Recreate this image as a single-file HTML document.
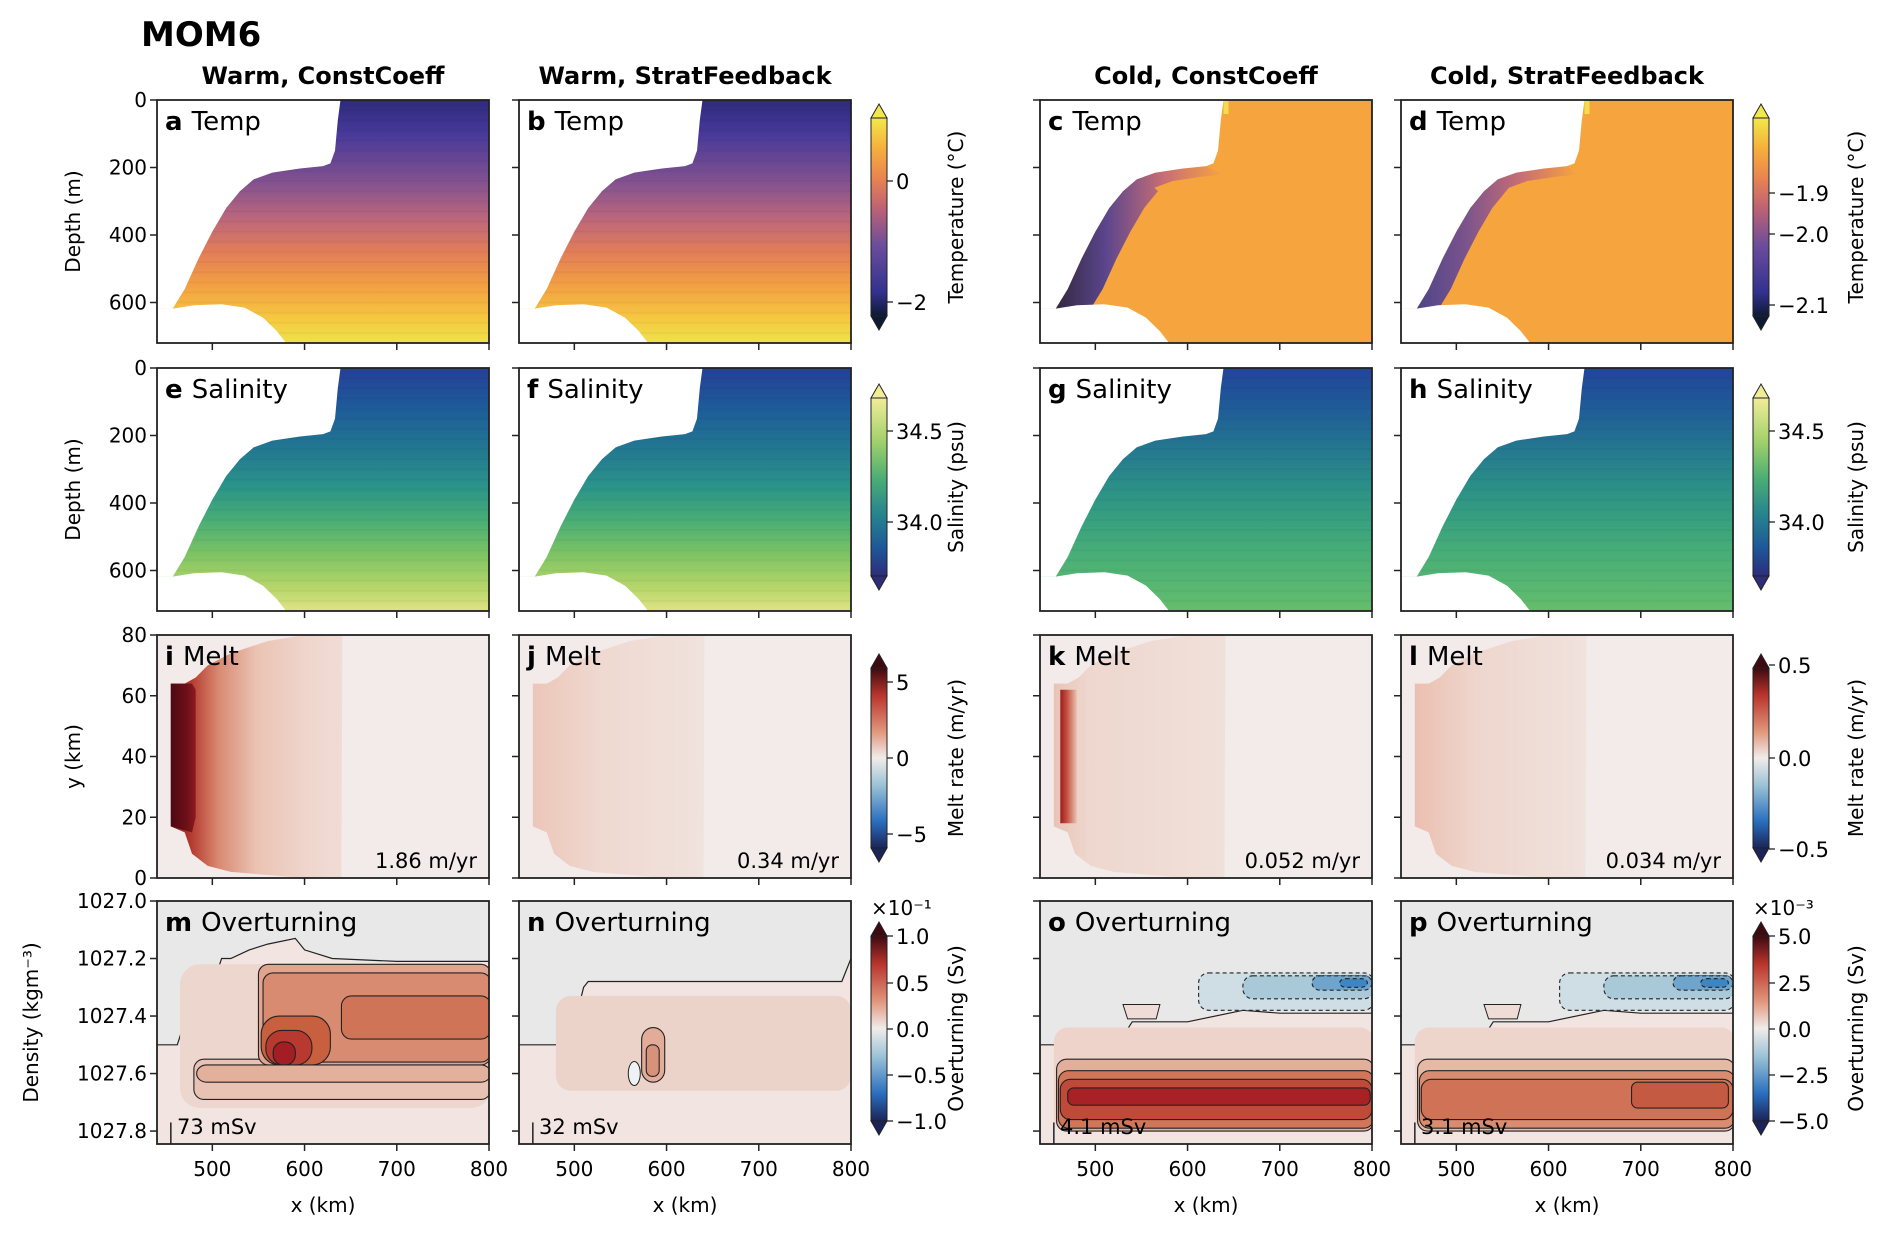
<!DOCTYPE html>
<html><head><meta charset="utf-8"><style>
html,body{margin:0;padding:0;background:#fff;}
svg{display:block;font-family:"DejaVu Sans","Liberation Sans",sans-serif;}
</style></head><body>
<svg id="fig" width="1892" height="1233" viewBox="0 0 1892 1233" xmlns="http://www.w3.org/2000/svg">
<defs id="defs"></defs>
</svg>
<script>
// ---- data ----
const colTitles = ["Warm, ConstCoeff","Warm, StratFeedback","Cold, ConstCoeff","Cold, StratFeedback"];
const xTicks = [500,600,700,800];
const depthTicks = [0,200,400,600];
const yKmTicks = [0,20,40,60,80];
const densTicks = [1027.0,1027.2,1027.4,1027.6,1027.8];
const meltTexts = ["1.86 m/yr","0.34 m/yr","0.052 m/yr","0.034 m/yr"];
const overturnTexts = ["73 mSv","32 mSv","4.1 mSv","3.1 mSv"];
const draftKm = [457,470,485,500,515,530,545,565,595,620,628,633,636,639];
const draftM  = [618,560,470,390,320,270,235,215,203,196,188,150,60,0];
const bedKm = [457,480,510,535,555,570,580];
const bedM  = [618,608,605,615,645,685,720];
const warmTempDepth = [0,100,250,350,450,550,650,720];
const warmTempCol = ["#2e2a7c","#47399a","#86538f","#bb667c","#e27d58","#f3a043","#f6c940","#eee24c"];
const salDepth = [0,120,250,350,450,550,650,720];
const warmSalCol = ["#263f96","#1d5c9a","#237a90","#2a938a","#48ad76","#7cc364","#b6d66a","#dfe384"];
const coldSalCol = ["#22449a","#1f5c98","#257a8f","#2b8f88","#37a07f","#48ae77","#58b771","#66bd6c"];
const tempCbLeftTicks = ["0","\u22122"], tempCbLeftY=[181,302];
const tempCbRightTicks = ["\u22121.9","\u22122.0","\u22122.1"], tempCbRightY=[193,234,305];
const salCbTicks = ["34.5","34.0"], salCbY=[431,522];
const meltCbLeftTicks = ["5","0","\u22125"], meltCbLeftY=[682,758,834];
const meltCbRightTicks=["0.5","0.0","\u22120.5"], meltCbRightY=[665,758,849];
const ovLeftTicks = ["1.0","0.5","0.0","\u22120.5","\u22121.0"], ovRightTicks=["5.0","2.5","0.0","\u22122.5","\u22125.0"], ovY=[936,983,1029,1075,1121];

// ---- layout ----
const X0=[157,519,1040,1401], W=332, Y0=[100,368,635,901], H=243;
const svg=document.getElementById('fig'), defs=document.getElementById('defs');
const NS="http://www.w3.org/2000/svg";
function mk(tag,attrs,name,parent){const el=document.createElementNS(NS,tag);for(const k in attrs)el.setAttribute(k,attrs[k]);


(parent||svg).appendChild(el);return el;}
function txt(s,x,y,size,name,opt){opt=opt||{};const t=mk('text',Object.assign({x:x,y:y,'font-size':size,fill:'#000'},opt),name);t.textContent=s;return t;}
const sx=(c,km)=>X0[c]+(km-440)/360*W;
const sd=(r,d)=>Y0[r]+d/720*H;
const sy=(r,y)=>Y0[r]+H-(y/80)*H;
const sr=(r,rho)=>Y0[r]+(rho-1027.0)/0.845*H;
let gid=0;
function vgrad(stops){const id='g'+(gid++);const g=mk('linearGradient',{id:id,x1:0,y1:0,x2:0,y2:1},'gradient',defs);
stops.forEach(s=>mk('stop',{offset:s[0],'stop-color':s[1]},'gradient-stop',g));return id;}
function hgrad(stops){const id='g'+(gid++);const g=mk('linearGradient',{id:id,x1:0,y1:0,x2:1,y2:0},'gradient',defs);
stops.forEach(s=>mk('stop',{offset:s[0],'stop-color':s[1]},'gradient-stop',g));return id;}
function pts(arr){return arr.map(p=>p[0].toFixed(1)+','+p[1].toFixed(1)).join(' ');}

txt("MOM6",141,46,34,'figure-title',{'font-weight':'bold'});
colTitles.forEach((t,c)=>txt(t,X0[c]+W/2,84,24,'column-title',{'font-weight':'bold','text-anchor':'middle'}));

function frame(c,r){mk('rect',{x:X0[c],y:Y0[r],width:W,height:H,fill:'none',stroke:'#222','stroke-width':1.8},'axes-frame');
xTicks.forEach(v=>mk('line',{x1:sx(c,v),x2:sx(c,v),y1:Y0[r]+H,y2:Y0[r]+H+7,stroke:'#222','stroke-width':1.5},'x-tick'));
if(r==3) xTicks.forEach(v=>txt(String(v),sx(c,v),Y0[r]+H+32,20,'x-tick-label',{'text-anchor':'middle'}));
if(r==3) txt("x (km)",X0[c]+W/2,1212,20,'x-axis-title',{'text-anchor':'middle'});}
function yticks(c,r,vals,fn,labels){vals.forEach(v=>{mk('line',{x1:X0[c]-7,x2:X0[c],y1:fn(r,v),y2:fn(r,v),stroke:'#222','stroke-width':1.5},'y-tick');
if(labels&&c==0) txt(labels(v),X0[c]-10,fn(r,v)+7,20,'y-tick-label',{'text-anchor':'end'});});}
function plabel(c,r,l,s){const t=txt('',X0[c]+8,Y0[r]+30,26,'panel-label');
const a=document.createElementNS(NS,'tspan');a.setAttribute('font-weight','bold');a.textContent=l+' ';t.appendChild(a);
const b=document.createElementNS(NS,'tspan');b.textContent=s;t.appendChild(b);}
function clip(c,r){const id='c'+(gid++);const cp=mk('clipPath',{id:id},'clip',defs);mk('rect',{x:X0[c],y:Y0[r],width:W,height:H},'clip-rect',cp);return id;}
function ice(c,r){
 const top=[[sx(c,440),Y0[r]]];
 const d=draftKm.map((k,i)=>[sx(c,k),sd(r,draftM[i])]);
 mk('polygon',{points:pts(top.concat(d.slice().reverse()).concat([[sx(c,440),sd(r,618)]])),fill:'#fff'},'ice-shelf');
 const b=bedKm.map((k,i)=>[sx(c,k),sd(r,bedM[i])]);
 mk('polygon',{points:pts([[sx(c,440),sd(r,618)]].concat(b).concat([[sx(c,440),sd(r,720)]])),fill:'#fff'},'bedrock');}
function depthPanel(c,r,depths,cols){const g=vgrad(depths.map((d,i)=>[d/720,cols[i]]));
 mk('rect',{x:X0[c],y:Y0[r],width:W,height:H,fill:'url(#'+g+')'},'field');
 for(let d=30;d<720;d+=30) mk('line',{x1:X0[c],x2:X0[c]+W,y1:sd(r,d),y2:sd(r,d),stroke:'#000','stroke-opacity':0.03,'stroke-width':2},'contour-band');}

// Row 0 temp
for(let c=0;c<4;c++){
 if(c<2){depthPanel(c,0,warmTempDepth,warmTempCol);}
 else{mk('rect',{x:X0[c],y:Y0[0],width:W,height:H,fill:'#f6a53e'},'field');
  const dk=c==2?'#1c1a40':'#3a3a90', pur=c==2?'#4a3b96':'#6c4a95';
  const g=hgrad([[0,dk],[0.3,pur],[0.65,'#c4687a'],[1,'#f6a53e']]);
  const band=[];for(let i=0;i<10;i++)band.push([sx(c,draftKm[i]),sd(0,draftM[i])]);
  const w=c==2?38:24;
  const back=[];for(let i=9;i>=0;i--)back.push([sx(c,draftKm[i]+w*(i<6?1:0.5)),sd(0,draftM[i]+(i>=6?25:0))]);
  mk('polygon',{points:pts(band.concat(back)),fill:'url(#'+g+')',opacity:0.9},'cold-plume');
  mk('rect',{x:sx(c,639),y:Y0[0],width:5,height:14,fill:'#f4dc4a'},'warm-spot');}
 ice(c,0);frame(c,0);yticks(c,0,depthTicks,sd,v=>String(v));plabel(c,0,'abcd'[c],'Temp');}
// Row 1 salinity
for(let c=0;c<4;c++){depthPanel(c,1,salDepth,c<2?warmSalCol:coldSalCol);ice(c,1);frame(c,1);yticks(c,1,depthTicks,sd,v=>String(v));plabel(c,1,'efgh'[c],'Salinity');}
txt("Depth (m)",0,0,20,'y-axis-title',{transform:'translate(80,'+(Y0[0]+H/2)+') rotate(-90)','text-anchor':'middle'});
txt("Depth (m)",0,0,20,'y-axis-title',{transform:'translate(80,'+(Y0[1]+H/2)+') rotate(-90)','text-anchor':'middle'});

// Row 2 melt
const meltEdge=[[478,8],[495,4],[520,2],[560,1],[600,0],[640,0],[641,80],[600,80],[560,78],[520,74],[495,70],[482,66],[470,64],[455,64],[455,17],[470,15]];
const darkBlock=[[455,17],[478,15],[482,20],[482,62],[478,64],[455,64]];
for(let c=0;c<4;c++){const r=2;
 mk('rect',{x:X0[c],y:Y0[r],width:W,height:H,fill:'#f2ebea'},'field');
 const st=c==0?[[0,'#8b1a1f'],[0.12,'#b53b30'],[0.28,'#d98a72'],[0.5,'#ebc3b4'],[0.8,'#efd6cd'],[1,'#f0dcd5']]:
  c==2?[[0,'#e9c3b5'],[0.2,'#eed7ce'],[1,'#f0e0da']]:
  c==1?[[0,'#ecc6b8'],[0.4,'#efd9d1'],[1,'#f0e2dd']]:[[0,'#ebbfb0'],[0.35,'#eed6cd'],[1,'#f0e2dd']];
 const g=hgrad(st);
 mk('polygon',{points:pts(meltEdge.map(p=>[sx(c,p[0]),sy(r,p[1])])),fill:'url(#'+g+')'},'melt-region');
 if(c==0){const g2=hgrad([[0,'#4e0a12'],[0.6,'#6b0f18'],[1,'#8b1a1f']]);
  mk('polygon',{points:pts(darkBlock.map(p=>[sx(c,p[0]),sy(r,p[1])])),fill:'url(#'+g2+')'},'high-melt-block');}
 if(c==2){const g3=hgrad([[0,'#9a1c22'],[0.4,'#c4503e'],[1,'#e9c3b5']]);
  mk('polygon',{points:pts([[462,18],[480,18],[480,62],[462,62]].map(p=>[sx(c,p[0]),sy(r,p[1])])),fill:'url(#'+g3+')'},'high-melt-strip');}
 frame(c,r);yticks(c,r,yKmTicks,sy,v=>String(v));plabel(c,r,'ijkl'[c],'Melt');
 txt(meltTexts[c],X0[c]+W-12,Y0[r]+H-10,21,'melt-mean-label',{'text-anchor':'end'});}
txt("y (km)",0,0,20,'y-axis-title',{transform:'translate(80,'+(Y0[2]+H/2)+') rotate(-90)','text-anchor':'middle'});

// Row 3 overturning
const bndM=[[440,1027.5],[462,1027.5],[470,1027.42],[480,1027.38],[490,1027.3],[505,1027.25],[510,1027.2],[520,1027.2],[540,1027.17],[560,1027.15],[590,1027.13],[600,1027.17],[630,1027.2],[700,1027.21],[800,1027.21]];
const bndN=[[440,1027.5],[480,1027.5],[500,1027.43],[510,1027.3],[515,1027.28],[600,1027.28],[640,1027.28],[700,1027.28],[790,1027.28],[800,1027.2]];
const bndO=[[440,1027.5],[465,1027.5],[470,1027.52],[500,1027.45],[520,1027.52],[540,1027.42],[600,1027.42],[660,1027.38],[700,1027.39],[800,1027.39]];
function boundary(c,r,b){const p=b.map(q=>[sx(c,q[0]),sr(r,q[1])]);
 mk('polygon',{points:pts([[X0[c],Y0[r]]].concat(p).concat([[X0[c]+W,Y0[r]]])),fill:'#e8e8e8'},'isopycnal-outcrop');
 mk('polyline',{points:pts(p),fill:'none',stroke:'#222','stroke-width':1.2},'zero-contour');}
function blob(c,r,x1,x2,r1,r2,fill,dash,rad,nostroke){mk('rect',{x:sx(c,x1),y:sr(r,r1),width:sx(c,x2)-sx(c,x1),height:sr(r,r2)-sr(r,r1),rx:rad||10,fill:fill,stroke:nostroke?'none':'#222','stroke-width':1.1,'stroke-dasharray':dash?'4,3':'none'},'overturning-contour');}
for(let c=0;c<4;c++){const r=3;
 mk('rect',{x:X0[c],y:Y0[r],width:W,height:H,fill:'#f1e4e1'},'field');
 const cp=clip(c,r);const g=mk('g',{'clip-path':'url(#'+cp+')'},'overturning-field');
 if(c==0){boundary(c,r,bndM);
  blob(c,r,465,802,1027.22,1027.72,'#ecd6cd',false,20,true);
  blob(c,r,480,802,1027.55,1027.69,'#e8c2b3');
  blob(c,r,483,802,1027.57,1027.63,'#e3b09c');
  blob(c,r,550,802,1027.22,1027.57,'#e0a48f');
  blob(c,r,555,802,1027.25,1027.56,'#d98b71');
  blob(c,r,640,802,1027.33,1027.48,'#d07458');
  blob(c,r,553,628,1027.4,1027.57,'#c8603f',false,18);
  blob(c,r,558,608,1027.45,1027.57,'#b8392f',false,16);
  blob(c,r,566,590,1027.49,1027.57,'#a21d24',false,10);}
 else if(c==1){boundary(c,r,bndN);
  mk('rect',{x:sx(c,480),y:sr(r,1027.33),width:sx(c,800)-sx(c,480),height:sr(r,1027.66)-sr(r,1027.33),rx:15,fill:'#ebd3ca'},'weak-cell');
  blob(c,r,573,598,1027.44,1027.63,'#e2ac98',false,12);
  blob(c,r,578,592,1027.5,1027.61,'#d8917a',false,6);
  mk('ellipse',{cx:sx(c,565),cy:sr(r,1027.6),rx:6,ry:12,fill:'#eef2f4',stroke:'#222','stroke-width':1},'negative-cell');}
 else{boundary(c,r,bndO);
  const red=c==2;
  blob(c,r,612,802,1027.25,1027.38,'#cfdee5',true);
  blob(c,r,660,802,1027.26,1027.34,'#a9c8d8',true);
  blob(c,r,735,800,1027.26,1027.31,'#6fa4cc',true,8);
  blob(c,r,765,795,1027.27,1027.3,'#3e86c2',true,6);
  blob(c,r,455,802,1027.44,1027.8,red?'#eed3ca':'#edd5cc',false,14,true);
  blob(c,r,458,802,1027.55,1027.8,red?'#e3ae9a':'#e6b8a6');
  blob(c,r,460,802,1027.59,1027.79,red?'#d27659':'#d98c70');
  blob(c,r,462,800,1027.62,1027.76,red?'#c04a38':'#cf7255');
  if(red) blob(c,r,470,798,1027.65,1027.71,'#a82225',false,6);
  else blob(c,r,690,795,1027.63,1027.72,'#c55a43',false,6);
  mk('polygon',{points:pts([[sx(c,530),sr(r,1027.36)],[sx(c,570),sr(r,1027.36)],[sx(c,566),sr(r,1027.41)],[sx(c,535),sr(r,1027.41)]]),fill:'#f0dcd6',stroke:'#222','stroke-width':1},'small-positive-cell');}
 Array.from(svg.childNodes).slice(Array.from(svg.childNodes).indexOf(g)+1).forEach(n=>g.appendChild(n));
 mk('line',{x1:sx(c,455),x2:sx(c,455),y1:sr(r,1027.77),y2:Y0[r]+H,stroke:'#222','stroke-width':1.5},'scale-bar');
 frame(c,r);yticks(c,r,densTicks,sr,v=>v.toFixed(1));plabel(c,r,'mnop'[c],'Overturning');
 txt(overturnTexts[c],X0[c]+20,Y0[r]+H-10,21,'overturning-max-label');}
txt("Density (kgm\u207B\u00B3)",0,0,20,'y-axis-title',{transform:'translate(38,'+(Y0[3]+H/2)+') rotate(-90)','text-anchor':'middle'});

// colorbars
function cbar(x,y1,y2,stops,ticks,ys,title,name,off){
 const g=vgrad(stops);
 mk('rect',{x:x,y:y1,width:16,height:y2-y1,fill:'url(#'+g+')',stroke:'#222','stroke-width':1},name);
 mk('polygon',{points:pts([[x,y1],[x+8,y1-14],[x+16,y1]]),fill:stops[0][1],stroke:'#222','stroke-width':1},name+'-extend-top');
 mk('polygon',{points:pts([[x,y2],[x+8,y2+14],[x+16,y2]]),fill:stops[stops.length-1][1],stroke:'#222','stroke-width':1},name+'-extend-bottom');
 ticks.forEach((t,i)=>{mk('line',{x1:x+16,x2:x+22,y1:ys[i],y2:ys[i],stroke:'#222','stroke-width':1.3},'colorbar-tick');
  txt(t,x+25,ys[i]+8,21,'colorbar-tick-label');});
 txt(title,0,0,20,'colorbar-title',{transform:'translate('+(x+off)+','+((y1+y2)/2)+') rotate(-90)','text-anchor':'middle'});}
const tempStops=[[0,'#f2e84a'],[0.15,'#f6b03c'],[0.3,'#ea8550'],[0.45,'#c06373'],[0.65,'#6a4c9c'],[0.88,'#33318f'],[1,'#0e1a33']];
const salStops=[[0,'#f1ec98'],[0.25,'#9fd06a'],[0.45,'#4cae74'],[0.65,'#27858e'],[0.85,'#1e5599'],[1,'#2d2d7a']];
const balStops=[[0,'#3d0a10'],[0.15,'#b8342c'],[0.35,'#e0957a'],[0.5,'#f1ecea'],[0.65,'#9cc3d6'],[0.85,'#2a6fc0'],[1,'#1b2458']];
cbar(871,118,316,tempStops,tempCbLeftTicks,tempCbLeftY,"Temperature (\u00B0C)",'temperature-colorbar',92);
cbar(1753,118,316,tempStops,tempCbRightTicks,tempCbRightY,"Temperature (\u00B0C)",'temperature-colorbar-cold',110);
cbar(871,398,576,salStops,salCbTicks,salCbY,"Salinity (psu)",'salinity-colorbar',92);
cbar(1753,398,576,salStops,salCbTicks,salCbY,"Salinity (psu)",'salinity-colorbar-cold',110);
cbar(871,668,848,balStops,meltCbLeftTicks,meltCbLeftY,"Melt rate (m/yr)",'melt-colorbar',92);
cbar(1753,668,848,balStops,meltCbRightTicks,meltCbRightY,"Melt rate (m/yr)",'melt-colorbar-cold',110);
cbar(871,936,1121,balStops,ovLeftTicks,ovY,"Overturning (Sv)",'overturning-colorbar',92);
cbar(1753,936,1121,balStops,ovRightTicks,ovY,"Overturning (Sv)",'overturning-colorbar-cold',110);
txt("\u00D710\u207B\u00B9",871,915,20,'colorbar-scale-label');
txt("\u00D710\u207B\u00B3",1753,915,20,'colorbar-scale-label');
</script>
</body></html>
